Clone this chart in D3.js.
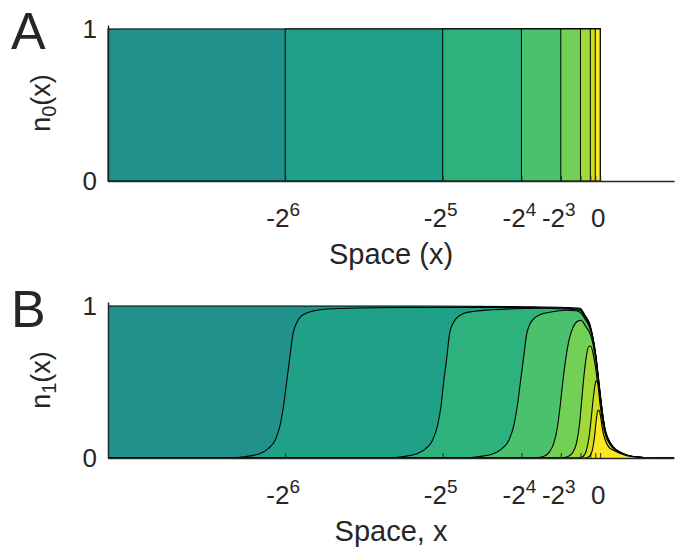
<!DOCTYPE html>
<html>
<head>
<meta charset="utf-8">
<script src="https://cdn.jsdelivr.net/npm/d3@7"></script>
<style>
  body { margin: 0; background: #fff; }
  text { font-family: "Liberation Sans", Arial, sans-serif; fill: #262626; }
</style>
</head>
<body>
<div id="chart"></div>
<script>
// step fronts for n0 (start of each layer, all end at 0 with height 1)
const stepStarts = [-100, -64, -32, -16, -8, -4, -2, -1]
const stepEnd = 0
const stepHeight = 1

// x ticks
const tickValues = [-64, -32, -16, -8, -4, -2, -1, 0]
const tickBase = ['-2', '-2', '-2', '-2', '', '', '', '0']
const tickExp = ['6', '5', '4', '3', '', '', '', '']
const yTicks = [0, 1]

// n1 profiles, one per layer, [x, n1]
const front0 = [[-100,1],[-40,1],[-15,0.995],[-7,0.99],[-4.1,0.985],[-3.1,0.94],[-2.1,0.88],[-1.5,0.8],[-0.85,0.67],[-0.25,0.5],[0.2,0.37],[0.6,0.27],[1.0,0.19],[1.6,0.13],[2.6,0.075],[4.0,0.04],[5.4,0.02],[8.1,0.005],[11,0],[15,0]]
const front64 = [[-100,0],[-76,0],[-72,0.01],[-69.5,0.025],[-67.5,0.06],[-66,0.12],[-65,0.22],[-64.3,0.35],[-63.7,0.5],[-63.1,0.65],[-62.4,0.82],[-61.8,0.88],[-61,0.925],[-59.5,0.955],[-57.5,0.972],[-54,0.982],[-48,0.987],[-40,0.99],[-15,0.99],[-7,0.985],[-4.1,0.978],[-3.1,0.935],[-2.1,0.874],[-1.5,0.794],[-0.85,0.664],[-0.25,0.494],[0.2,0.364],[0.6,0.265],[1.0,0.186],[1.6,0.127],[2.6,0.073],[4.0,0.039],[5.4,0.019],[8.1,0.004],[11,0],[15,0]]
const front32 = [[-100,0],[-44,0],[-40,0.01],[-37.5,0.025],[-35.5,0.06],[-34,0.12],[-33,0.22],[-32.3,0.35],[-31.8,0.5],[-31.2,0.65],[-30.6,0.82],[-30,0.88],[-29.2,0.92],[-27.8,0.95],[-25.5,0.965],[-22,0.975],[-12,0.985],[-7,0.98],[-4.1,0.97],[-3.1,0.928],[-2.1,0.868],[-1.5,0.788],[-0.85,0.658],[-0.25,0.488],[0.2,0.358],[0.6,0.26],[1.0,0.182],[1.6,0.124],[2.6,0.071],[4.0,0.038],[5.4,0.018],[8.1,0.004],[11,0],[15,0]]
const front16 = [[-100,0],[-28.5,0],[-24.5,0.01],[-22,0.025],[-20,0.06],[-18.5,0.12],[-17.5,0.22],[-16.8,0.35],[-16.2,0.5],[-15.6,0.65],[-14.9,0.82],[-14.3,0.88],[-13.5,0.915],[-12,0.945],[-10,0.96],[-7,0.972],[-5,0.968],[-4.1,0.958],[-3.1,0.915],[-2.1,0.855],[-1.5,0.777],[-0.85,0.648],[-0.25,0.48],[0.2,0.352],[0.6,0.255],[1.0,0.178],[1.6,0.121],[2.6,0.069],[4.0,0.037],[5.4,0.018],[8.1,0.004],[11,0],[15,0]]
const front8 = [[-100,0],[-14,0],[-11.5,0.01],[-10.3,0.04],[-9.4,0.1],[-8.7,0.2],[-8.1,0.35],[-7.6,0.5],[-7.0,0.65],[-6.3,0.78],[-5.5,0.86],[-4.6,0.9],[-4.0,0.905],[-3.5,0.895],[-3.0,0.868],[-2.1,0.82],[-1.5,0.757],[-0.85,0.632],[-0.25,0.47],[0.2,0.345],[0.6,0.25],[1.0,0.175],[1.6,0.119],[2.6,0.068],[4.0,0.036],[5.4,0.017],[8.1,0.004],[11,0],[15,0]]
const front4 = [[-100,0],[-8,0],[-6.5,0.01],[-5.5,0.04],[-4.8,0.1],[-4.2,0.22],[-3.7,0.4],[-3.2,0.57],[-2.7,0.69],[-2.3,0.735],[-1.9,0.735],[-1.4,0.68],[-0.85,0.575],[-0.35,0.44],[0.15,0.33],[0.6,0.245],[1.0,0.172],[1.6,0.117],[2.6,0.067],[4.0,0.035],[5.4,0.017],[8.1,0.004],[11,0],[15,0]]
const front2 = [[-100,0],[-4.5,0],[-3.5,0.01],[-2.8,0.05],[-2.3,0.13],[-1.85,0.25],[-1.45,0.38],[-1.05,0.48],[-0.8,0.51],[-0.5,0.49],[-0.05,0.36],[0.55,0.225],[1.2,0.14],[1.6,0.11],[2.6,0.065],[4.0,0.034],[5.4,0.016],[8.1,0.003],[11,0],[15,0]]
const front1 = [[-100,0],[-3,0],[-2.2,0.01],[-1.6,0.05],[-1.15,0.14],[-0.75,0.26],[-0.45,0.315],[-0.2,0.31],[0.1,0.27],[0.4,0.2],[1.0,0.12],[1.8,0.07],[2.6,0.052],[4.0,0.031],[5.4,0.015],[8.1,0.003],[11,0],[15,0]]
const fronts = [front0, front64, front32, front16, front8, front4, front2, front1]

const width = 684
const height = 550
const left = 108, right = 674
const panels = [
  { top: 25, bottom: 181, letter: 'A', sub: '0', xlabel: 'Space (x)', letterY: 49 },
  { top: 302, bottom: 458, letter: 'B', sub: '1', xlabel: 'Space, x', letterY: 327 }
]

const color = i => d3.interpolateViridis(0.5 + i * 0.5 / (stepStarts.length - 1))

const svg = d3.select('#chart').append('svg')
  .attr('width', width)
  .attr('height', height)

const x = d3.scaleLinear().domain([-100, 15]).range([left, right])

panels.forEach((p, pi) => {
  const y = d3.scaleLinear().domain([0, 1.026]).range([p.bottom, p.top])
  const g = svg.append('g')

  if (pi === 0) {
    g.selectAll('rect')
      .data(stepStarts)
      .join('rect')
        .attr('x', d => x(d))
        .attr('y', y(stepHeight))
        .attr('width', d => x(stepEnd) - x(d))
        .attr('height', y(0) - y(stepHeight))
        .attr('fill', (d, i) => color(i))
        .attr('stroke', '#000')
        .attr('stroke-width', 1)
  } else {
    const area = d3.area()
      .x(d => x(d[0]))
      .y0(y(0))
      .y1(d => y(d[1]))
      .curve(d3.curveMonotoneX)
    const line = d3.line()
      .x(d => x(d[0]))
      .y(d => y(d[1]))
      .curve(d3.curveMonotoneX)
    fronts.forEach((f, i) => {
      g.append('path').attr('d', area(f)).attr('fill', color(i))
      g.append('path').attr('d', line(f)).attr('fill', 'none')
        .attr('stroke', '#000').attr('stroke-width', 1.1)
    })
  }

  // x axis, ticks pointing inward
  const xAxis = g.append('g')
    .attr('transform', `translate(0,${p.bottom})`)
    .call(d3.axisBottom(x).tickValues(tickValues).tickSizeInner(-5).tickSizeOuter(0).tickFormat(''))
  xAxis.select('.domain').attr('stroke', '#262626').attr('stroke-width', 1.5)
  xAxis.selectAll('.tick line').attr('stroke', '#262626').attr('stroke-width', 1)
  xAxis.selectAll('.tick text').remove()

  const lab = g.append('g').attr('font-size', 26)
  tickValues.forEach((v, i) => {
    if (!tickBase[i]) return
    const t = lab.append('text')
      .attr('x', x(v) - 2)
      .attr('y', p.bottom + 46)
      .attr('text-anchor', 'middle')
    t.append('tspan').text(tickBase[i])
    if (tickExp[i]) t.append('tspan').attr('dy', -11).attr('font-size', 19).text(tickExp[i])
  })

  g.append('text')
    .attr('x', (left + right) / 2)
    .attr('y', p.bottom + 83)
    .attr('text-anchor', 'middle')
    .attr('font-size', 29)
    .text(p.xlabel)

  // y axis
  const yAxis = g.append('g')
    .attr('transform', `translate(${left},0)`)
    .call(d3.axisLeft(y).tickValues(yTicks).tickSizeInner(-5).tickSizeOuter(0).tickPadding(11).tickFormat(d3.format('d')))
  yAxis.select('.domain').attr('stroke', '#262626').attr('stroke-width', 1.5)
  yAxis.selectAll('.tick line').attr('stroke', '#262626')
  yAxis.selectAll('.tick text')
    .attr('font-size', 26)
    .attr('fill', '#262626')
    .attr('font-family', '"Liberation Sans", Arial, sans-serif')

  const yl = g.append('text')
    .attr('transform', `translate(50,${(p.top + p.bottom) / 2}) rotate(-90)`)
    .attr('text-anchor', 'middle')
    .attr('font-size', 27)
  yl.append('tspan').text('n')
  yl.append('tspan').attr('dy', 6).attr('font-size', 20).text(p.sub)
  yl.append('tspan').attr('dy', -6).text('(x)')

  g.append('text')
    .attr('x', 11)
    .attr('y', p.letterY)
    .attr('font-size', 52)
    .attr('fill', '#000')
    .text(p.letter)
})
</script>
</body>
</html>
